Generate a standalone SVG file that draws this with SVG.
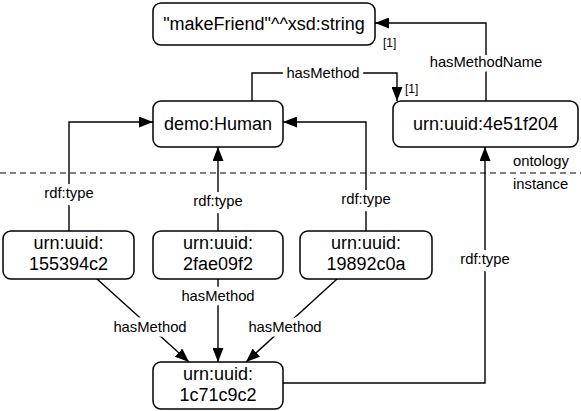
<svg xmlns="http://www.w3.org/2000/svg" width="581" height="411" viewBox="0 0 581 411">
<defs>
<style>
.node rect{fill:#fff;stroke:#000;stroke-width:1.5}
.node text{font-family:"Liberation Sans",Arial,sans-serif;font-size:18px;text-anchor:middle;fill:#000}
.edge{fill:none;stroke:#000;stroke-width:1.4}
.lbl{font-family:"Liberation Sans",Arial,sans-serif;font-size:14.8px;text-anchor:middle;fill:#000;stroke:#fff;stroke-width:9px;paint-order:stroke;stroke-linejoin:round}
.card{font-family:"Liberation Sans",Arial,sans-serif;font-size:12px;fill:#000}
.sep{font-family:"Liberation Sans",Arial,sans-serif;font-size:14.8px;fill:#000}
</style>
<marker id="arr" viewBox="0 0 14 11" refX="14" refY="5.5" markerWidth="14" markerHeight="11" markerUnits="userSpaceOnUse" orient="auto">
<path d="M0,0 L14,5.5 L0,11 Z" fill="#000"/>
</marker>
</defs>
<rect width="581" height="411" fill="#fff"/>
<line x1="0" y1="173" x2="581" y2="173" stroke="#000" stroke-width="1" stroke-dasharray="6,4"/>
<text class="sep" x="513" y="166">ontology</text>
<text class="sep" x="513" y="189">instance</text>
<g id="connectors">
<path class="edge" d="M486,101 V23 H375" marker-end="url(#arr)"/>
<path class="edge" d="M252,101 V73 H397 V101" marker-end="url(#arr)"/>
<path class="edge" d="M69,231 V122 H153" marker-end="url(#arr)"/>
<path class="edge" d="M218,231 V147" marker-end="url(#arr)"/>
<path class="edge" d="M366,231 V122 H283" marker-end="url(#arr)"/>
<path class="edge" d="M283,383 H485 V147" marker-end="url(#arr)"/>
<path class="edge" d="M97,279 L189,362" marker-end="url(#arr)"/>
<path class="edge" d="M218,279 V362" marker-end="url(#arr)"/>
<path class="edge" d="M337,279 L246,362" marker-end="url(#arr)"/>
<text class="lbl" x="486" y="67">hasMethodName</text>
<text class="card" x="383" y="47">[1]</text>
<text class="lbl" x="323" y="78">hasMethod</text>
<text class="card" x="405" y="93">[1]</text>
<text class="lbl" x="69" y="198">rdf:type</text>
<text class="lbl" x="218" y="206">rdf:type</text>
<text class="lbl" x="366" y="204">rdf:type</text>
<text class="lbl" x="485" y="264">rdf:type</text>
<text class="lbl" x="150" y="332">hasMethod</text>
<text class="lbl" x="218" y="301">hasMethod</text>
<text class="lbl" x="285" y="332">hasMethod</text>
</g>
<g id="n-makeFriend" class="node"><rect x="153" y="3" width="222" height="42" rx="8"/><text x="264" y="30">"makeFriend"^^xsd:string</text></g>
<g id="n-human" class="node"><rect x="153" y="101" width="130" height="46" rx="8"/><text x="218" y="130">demo:Human</text></g>
<g id="n-4e51f204" class="node"><rect x="393" y="101" width="185" height="46" rx="8"/><text x="485.5" y="130">urn:uuid:4e51f204</text></g>
<g id="n-155394c2" class="node"><rect x="3" y="231" width="131" height="48" rx="8"/><text x="68.5" y="249">urn:uuid:</text><text x="68.5" y="270">155394c2</text></g>
<g id="n-2fae09f2" class="node"><rect x="153" y="231" width="130" height="48" rx="8"/><text x="218" y="249">urn:uuid:</text><text x="218" y="270">2fae09f2</text></g>
<g id="n-19892c0a" class="node"><rect x="300" y="231" width="132" height="48" rx="8"/><text x="366" y="249">urn:uuid:</text><text x="366" y="270">19892c0a</text></g>
<g id="n-1c71c9c2" class="node"><rect x="153" y="362" width="130" height="47" rx="8"/><text x="218" y="380">urn:uuid:</text><text x="218" y="401">1c71c9c2</text></g>
</svg>
